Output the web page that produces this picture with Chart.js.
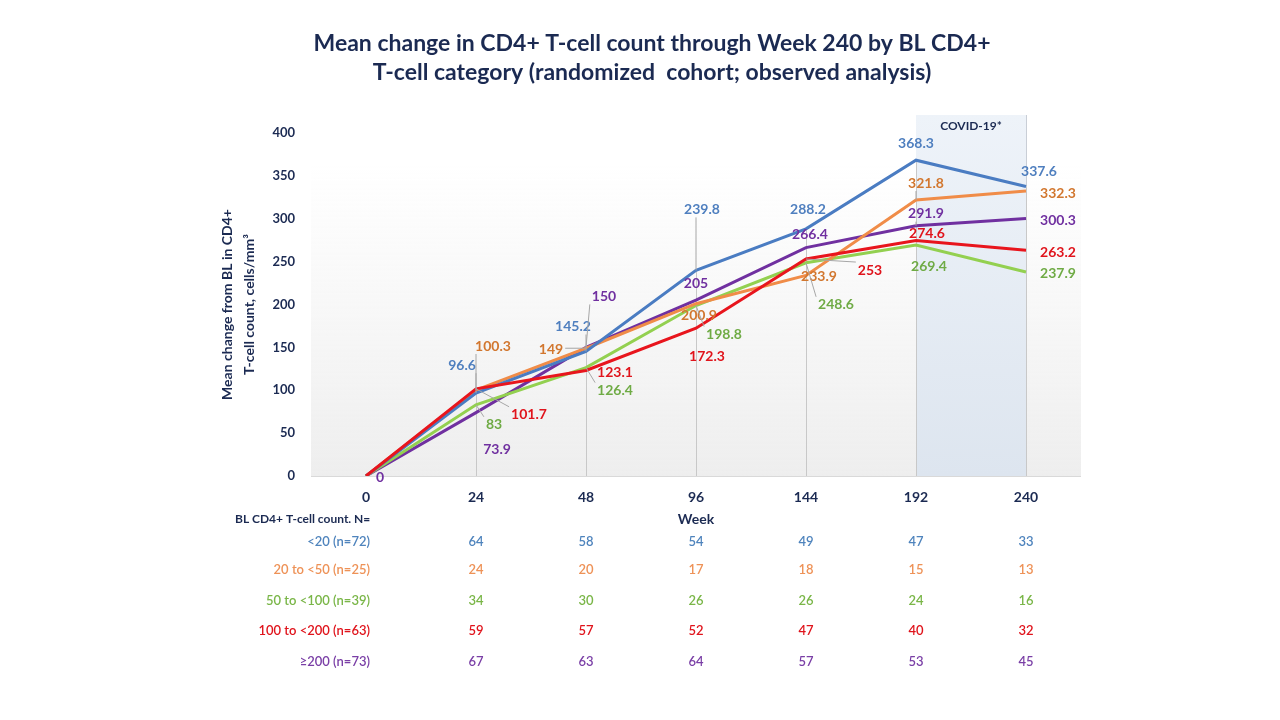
<!DOCTYPE html>
<html>
<head>
<meta charset="utf-8">
<title>Mean change in CD4+ T-cell count</title>
<script src="https://cdn.jsdelivr.net/npm/chart.js@4.4.1/dist/chart.umd.min.js"></script>
<style>
  html, body { margin: 0; padding: 0; background: #ffffff; }
  #wrap { width: 1280px; height: 720px; }
</style>
</head>
<body>
<div id="wrap"><canvas id="cd4Chart" width="1280" height="720"></canvas></div>
<script>
// weeks on the x axis
const weeks = ['0', '24', '48', '96', '144', '192', '240'];

// mean change from BL, cells/mm3
const lt20 = [0, 96.6, 145.2, 239.8, 288.2, 368.3, 337.6];
const from20to50 = [0, 100.3, 149, 200.9, 233.9, 321.8, 332.3];
const from50to100 = [0, 83, 126.4, 198.8, 248.6, 269.4, 237.9];
const from100to200 = [0, 101.7, 123.1, 172.3, 253, 274.6, 263.2];
const gte200 = [0, 73.9, 150, 205, 266.4, 291.9, 300.3];

// N at each visit (from week 24 on)
const nLt20 = [64, 58, 54, 49, 47, 33];
const n20to50 = [24, 20, 17, 18, 15, 13];
const n50to100 = [34, 30, 26, 26, 24, 16];
const n100to200 = [59, 57, 52, 47, 40, 32];
const nGte200 = [67, 63, 64, 57, 53, 45];

const groupNames = ['<20 (n=72)', '20 to <50 (n=25)', '50 to <100 (n=39)', '100 to <200 (n=63)', '\u2265200 (n=73)'];
const yTicks = [0, 50, 100, 150, 200, 250, 300, 350, 400];

const navy = '#1b2a52';
const FONT = 'Lato, "Open Sans", sans-serif';

// series look: line colour, label colour, table colour
const looks = [
  { line: '#4a7cc2', label: '#4f7fbf', table: '#4f84bd' },
  { line: '#f08c48', label: '#d2772f', table: '#ee9257' },
  { line: '#93d050', label: '#6fab45', table: '#7ab648' },
  { line: '#e8151d', label: '#e0141c', table: '#e0141c' },
  { line: '#7030a0', label: '#7030a0', table: '#7a3fa6' }
];

// label nudges (px from the point), null = no label; third item 1 = leader line
const labelNudge = [
  [null, [-14, -28, 1], [-13, -25, 1], [6, -61, 1], [2, -19], [0, -17], [13, -15]],
  [null, [17, -44, 1], [-35, 1, 1], [3, 12], [13, 1], [10, -17, 1], [32, 2]],
  [null, [18, 20, 1], [29, 23, 1], [28, 29, 1], [30, 42, 1], [13, 21], [32, 1]],
  [null, [53, 26, 1], [29, 2], [11, 28], [64, 11, 1], [11, -7, 1], [32, 2]],
  [[14, 1], [21, 37], [18, -51, 1], [0, -17], [4, -13], [10, -12, 1], [32, 2]]
];

const seriesValues = [lt20, from20to50, from50to100, from100to200, gte200];
const tableCounts = [nLt20, n20to50, n50to100, n100to200, nGte200];

const backdrop = {
  id: 'backdrop',
  beforeDatasetsDraw(chart) {
    const { ctx, chartArea: a, scales: { x, y } } = chart;
    ctx.save();
    // plot area fade
    const g = ctx.createLinearGradient(0, a.top + 30, 0, a.bottom);
    g.addColorStop(0, 'rgba(240,240,240,0)');
    g.addColorStop(1, 'rgba(238,238,238,1)');
    ctx.fillStyle = g;
    ctx.fillRect(a.left, a.top + 30, a.right - a.left, a.bottom - a.top - 30);

    // COVID-19 window between week 192 and 240
    const x1 = x.getPixelForValue(5), x2 = x.getPixelForValue(6);
    const top = a.top - 18;
    const cg = ctx.createLinearGradient(0, top, 0, a.bottom);
    cg.addColorStop(0, '#eef3f9');
    cg.addColorStop(1, '#dde5ef');
    ctx.fillStyle = cg;
    ctx.fillRect(x1, top, x2 - x1, a.bottom - top);
    ctx.strokeStyle = '#c9ced6';
    ctx.lineWidth = 1;
    ctx.beginPath();
    ctx.moveTo(Math.round(x2) + 0.5, top); ctx.lineTo(Math.round(x2) + 0.5, a.bottom);
    ctx.stroke();
    ctx.fillStyle = navy;
    ctx.font = 'bold 12px ' + FONT;
    ctx.textAlign = 'center';
    ctx.textBaseline = 'middle';
    ctx.fillText('COVID-19*', (x1 + x2) / 2, top + 11);

    // drop lines from the highest point to the axis
    ctx.strokeStyle = '#c8c8c8';
    for (let i = 1; i < weeks.length; i++) {
      const hi = Math.max(...seriesValues.map(s => s[i]));
      const px = Math.round(x.getPixelForValue(i)) + 0.5;
      ctx.beginPath();
      ctx.moveTo(px, y.getPixelForValue(hi));
      ctx.lineTo(px, a.bottom);
      ctx.stroke();
    }
    // axis line
    ctx.strokeStyle = '#d9d9d9';
    ctx.beginPath();
    ctx.moveTo(a.left, Math.round(a.bottom) + 0.5);
    ctx.lineTo(a.right, Math.round(a.bottom) + 0.5);
    ctx.stroke();
    ctx.restore();
  }
};

const pointLabels = {
  id: 'pointLabels',
  afterDatasetsDraw(chart) {
    const { ctx } = chart;
    ctx.save();
    ctx.font = 'bold 14px ' + FONT;
    ctx.textAlign = 'center';
    ctx.textBaseline = 'middle';
    chart.data.datasets.forEach((ds, di) => {
      const meta = chart.getDatasetMeta(di);
      meta.data.forEach((pt, i) => {
        const nudge = labelNudge[di][i];
        if (!nudge) return;
        const lx = pt.x + nudge[0], ly = pt.y + nudge[1];
        const txt = String(ds.data[i]);
        if (nudge[2]) {
          const w = ctx.measureText(txt).width / 2 + 2;
          const ex = Math.max(lx - w, Math.min(pt.x, lx + w));
          const ey = Math.max(ly - 8, Math.min(pt.y, ly + 8));
          ctx.strokeStyle = '#a6a6a6';
          ctx.lineWidth = 1;
          ctx.beginPath();
          ctx.moveTo(pt.x, pt.y);
          ctx.lineTo(ex, ey);
          ctx.stroke();
        }
        ctx.fillStyle = looks[di].label;
        ctx.fillText(txt, lx, ly);
      });
    });
    ctx.restore();
  }
};

const titleAndTable = {
  id: 'titleAndTable',
  afterDraw(chart) {
    const { ctx, scales: { x } } = chart;
    ctx.save();
    ctx.fillStyle = navy;
    ctx.font = 'bold 23px ' + FONT;
    ctx.textAlign = 'center';
    ctx.textBaseline = 'middle';
    ctx.fillText('Mean change in CD4+ T-cell count through Week 240 by BL CD4+', 652, 44);
    ctx.fillText('T-cell category (randomized  cohort; observed analysis)', 652, 73);

    ctx.font = 'bold 12px ' + FONT;
    ctx.textAlign = 'left';
    ctx.fillText('BL CD4+ T-cell count. N=', 235, 519);

    const rowY = [542, 570, 601, 631, 662];
    groupNames.forEach((name, r) => {
      ctx.fillStyle = looks[r].table;
      ctx.font = '600 13px ' + FONT;
      ctx.textAlign = 'right';
      ctx.fillText(name, 370, rowY[r]);
      ctx.textAlign = 'center';
      tableCounts[r].forEach((n, c) => {
        ctx.fillText(String(n), x.getPixelForValue(c + 1), rowY[r]);
      });
    });
    ctx.restore();
  }
};

new Chart(document.getElementById('cd4Chart').getContext('2d'), {
  type: 'line',
  data: {
    labels: weeks,
    datasets: seriesValues.map((vals, i) => ({
      label: groupNames[i],
      data: vals,
      borderColor: looks[i].line,
      backgroundColor: looks[i].line,
      borderWidth: 3,
      pointRadius: 0,
      tension: 0,
      order: i === 3 ? -1 : i
    }))
  },
  options: {
    responsive: false,
    animation: false,
    devicePixelRatio: 1,
    layout: { padding: { left: 217, right: 199, top: 133, bottom: 192 } },
    plugins: {
      legend: { display: false },
      tooltip: { enabled: false },
      title: { display: false }
    },
    scales: {
      x: {
        type: 'category',
        offset: true,
        grid: { display: false, drawTicks: false },
        border: { display: false },
        ticks: { color: navy, font: { family: FONT, size: 14, weight: 'bold' }, padding: 13 },
        title: { display: true, text: 'Week', color: navy, font: { family: FONT, size: 14, weight: 'bold' }, padding: 0 },
        afterFit(scale) { scale.height = 52; }
      },
      y: {
        min: 0,
        max: 400,
        afterBuildTicks(scale) { scale.ticks = yTicks.map(v => ({ value: v })); },
        grid: { display: false, drawTicks: false },
        border: { display: false },
        ticks: { color: navy, font: { family: FONT, size: 13, weight: 'bold' }, padding: 16 },
        title: {
          display: true,
          text: ['Mean change from BL in CD4+', 'T-cell count, cells/mm\u00b3'],
          color: navy,
          font: { family: FONT, size: 14, weight: 'bold', lineHeight: 1.55 },
          padding: 0
        },
        afterFit(scale) { scale.width = 94; }
      }
    }
  },
  plugins: [backdrop, pointLabels, titleAndTable]
});
</script>
</body>
</html>
